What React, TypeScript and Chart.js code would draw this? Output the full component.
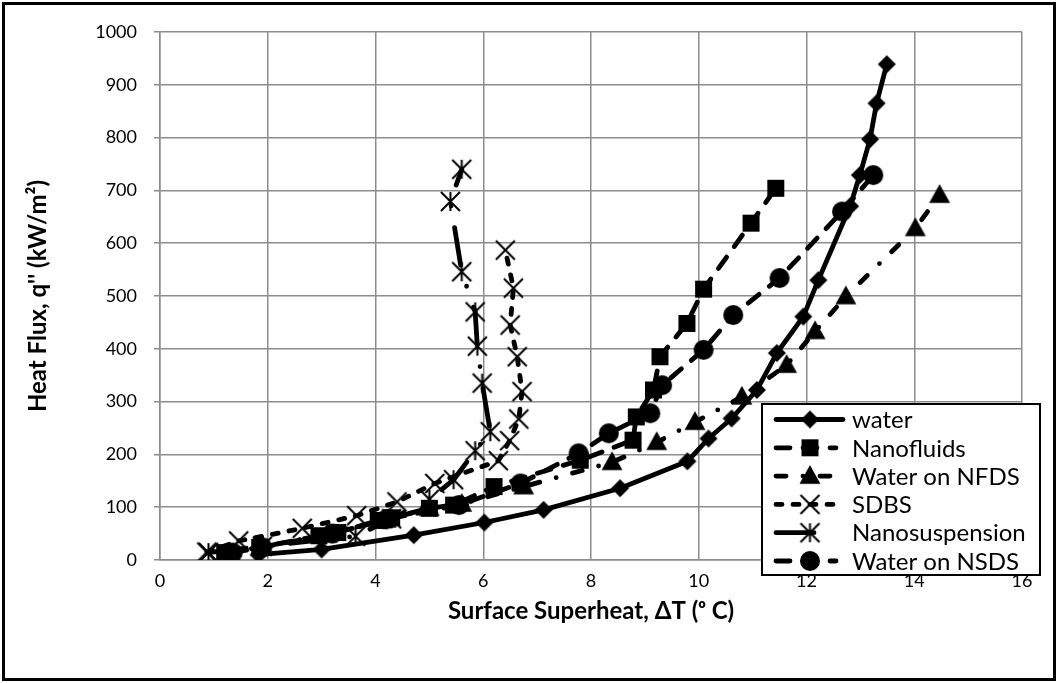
import React, { useEffect, useRef } from "react";
import { Chart, registerables } from "chart.js";

Chart.register(...registerables);

// Surface superheat ΔT (°C) and heat flux q'' (kW/m²) for each test series
const waterDT = [1.83, 3.0, 4.71, 6.02, 7.12, 8.54, 9.79, 10.18, 10.61, 11.08, 11.45, 11.94, 12.22, 12.81, 12.99, 13.18, 13.3, 13.49];
const waterQ = [10, 20, 47, 71, 95, 136, 187, 230, 268, 322, 392, 461, 530, 670, 729, 797, 865, 939];

const nanofluidsDT = [1.2, 1.85, 2.95, 3.3, 4.05, 4.3, 5.0, 5.45, 6.2, 7.8, 8.78, 8.84, 9.16, 9.28, 9.78, 10.09, 10.97, 11.43];
const nanofluidsQ = [14, 24, 46, 52, 75, 80, 98, 104, 139, 189, 227, 271, 322, 385, 448, 513, 638, 704];

const nfdsDT = [1.3, 1.9, 3.1, 4.2, 5.0, 5.6, 6.75, 8.39, 9.22, 9.93, 10.8, 11.63, 12.16, 12.73, 14.02, 14.47];
const nfdsQ = [14, 25, 48, 76, 98, 106, 139, 185, 223, 261, 309, 369, 433, 499, 628, 691];

const sdbsDT = [0.87, 1.46, 2.64, 3.65, 4.4, 5.1, 6.28, 6.49, 6.66, 6.72, 6.63, 6.5, 6.56, 6.41];
const sdbsQ = [15, 36, 60, 84, 110, 145, 188, 226, 267, 319, 385, 445, 515, 587];

const nanoSuspDT = [0.9, 1.9, 3.63, 4.3, 5.0, 5.45, 5.85, 6.13, 5.98, 5.89, 5.85, 5.6, 5.39, 5.6];
const nanoSuspQ = [14, 26, 45, 78, 115, 152, 207, 243, 335, 405, 470, 546, 679, 740];

const nsdsDT = [1.35, 1.9, 3.2, 4.2, 5.55, 6.69, 7.77, 8.33, 9.1, 9.32, 10.09, 10.64, 11.5, 12.66, 13.24];
const nsdsQ = [14, 24, 50, 77, 104, 145, 202, 240, 278, 331, 398, 464, 534, 660, 729];

const seriesLabels = ["water", "Nanofluids", "Water on NFDS", "SDBS", "Nanosuspension", "Water on NSDS"];
const seriesDT = [waterDT, nanofluidsDT, nfdsDT, sdbsDT, nanoSuspDT, nsdsDT];
const seriesQ = [waterQ, nanofluidsQ, nfdsQ, sdbsQ, nanoSuspQ, nsdsQ];

const xTickValues = [0, 2, 4, 6, 8, 10, 12, 14, 16];
const yTickValues = [0, 100, 200, 300, 400, 500, 600, 700, 800, 900, 1000];

const xTitle = "Surface Superheat, ΔT (ᵒ C)";
const yTitle = "Heat Flux, q'' (kW/m²)";

// Drawing styles
type MarkerKind = "diamond" | "square" | "triangle" | "x" | "asterisk" | "circle";
const MARKERS: { kind: MarkerKind; size: number }[] = [
  { kind: "diamond", size: 9 },
  { kind: "square", size: 8.5 },
  { kind: "triangle", size: 11 },
  { kind: "x", size: 9.5 },
  { kind: "asterisk", size: 9.5 },
  { kind: "circle", size: 10 },
];
const DASHES: number[][] = [[], [14, 13], [10, 17, 0, 17], [6, 11], [38, 22, 0, 22], [14, 13]];

const FONT = "Lato, 'Open Sans', sans-serif";
const GRID = "#8c8c8c";
const LINE_W = 4.8;

function makeMarker(kind: MarkerKind, s: number): HTMLCanvasElement {
  const d = Math.ceil(2 * s + 6);
  const c = document.createElement("canvas");
  c.width = d;
  c.height = d;
  const g = c.getContext("2d")!;
  g.translate(d / 2, d / 2);
  g.fillStyle = "#000";
  g.strokeStyle = "#000";
  g.lineWidth = 2;
  g.beginPath();
  switch (kind) {
    case "diamond":
      g.moveTo(0, -s);
      g.lineTo(s, 0);
      g.lineTo(0, s);
      g.lineTo(-s, 0);
      g.closePath();
      g.fill();
      break;
    case "square":
      g.rect(-s, -s, 2 * s, 2 * s);
      g.fill();
      break;
    case "triangle":
      g.moveTo(0, -s);
      g.lineTo(0.95 * s, 0.7 * s);
      g.lineTo(-0.95 * s, 0.7 * s);
      g.closePath();
      g.fill();
      break;
    case "circle":
      g.arc(0, 0, s, 0, Math.PI * 2);
      g.fill();
      break;
    case "x":
      g.moveTo(-s, -s);
      g.lineTo(s, s);
      g.moveTo(-s, s);
      g.lineTo(s, -s);
      g.stroke();
      break;
    case "asterisk":
      g.moveTo(-s, -s);
      g.lineTo(s, s);
      g.moveTo(-s, s);
      g.lineTo(s, -s);
      g.moveTo(0, -s);
      g.lineTo(0, s);
      g.stroke();
      break;
  }
  return c;
}

export default function App() {
  const ref = useRef<HTMLCanvasElement | null>(null);

  useEffect(() => {
    if (!ref.current) return;
    const images = MARKERS.map((m) => makeMarker(m.kind, m.size));

    const framePlugin = {
      id: "frame",
      beforeDraw(chart: any) {
        const { ctx, width, height } = chart;
        ctx.save();
        ctx.fillStyle = "#fff";
        ctx.fillRect(0, 0, width, height);
        ctx.strokeStyle = "#000";
        ctx.lineWidth = 3;
        ctx.strokeRect(3.5, 3.5, width - 7, height - 7);
        ctx.restore();
      },
    };

    const legendPlugin = {
      id: "boxLegend",
      afterDraw(chart: any) {
        const ctx: CanvasRenderingContext2D = chart.ctx;
        const bx = 762, by = 404, bw = 278, bh = 171;
        ctx.save();
        ctx.fillStyle = "#fff";
        ctx.fillRect(bx, by, bw, bh);
        ctx.strokeStyle = "#000";
        ctx.lineWidth = 2;
        ctx.strokeRect(bx, by, bw, bh);
        seriesLabels.forEach((label, i) => {
          const y = by + 15.5 + i * 28.3;
          ctx.save();
          ctx.strokeStyle = "#000";
          ctx.lineWidth = LINE_W;
          ctx.lineCap = "round";
          ctx.setLineDash(DASHES[i]);
          ctx.beginPath();
          ctx.moveTo(776, y);
          ctx.lineTo(i === 0 ? 843 : 836, y);
          ctx.stroke();
          ctx.restore();
          const img = images[i];
          ctx.drawImage(img, 810 - img.width / 2, y - img.height / 2);
          ctx.fillStyle = "#000";
          ctx.font = `24px ${FONT}`;
          ctx.textBaseline = "middle";
          ctx.textAlign = "left";
          ctx.fillText(label, 852, y + 1);
        });
        ctx.restore();
      },
    };

    const datasets = seriesLabels.map((label, i) => ({
      label,
      data: seriesDT[i].map((x, k) => ({ x, y: seriesQ[i][k] })),
      showLine: true,
      borderColor: "#000",
      backgroundColor: "#000",
      borderWidth: LINE_W,
      borderDash: DASHES[i],
      borderCapStyle: "round" as const,
      borderJoinStyle: "round" as const,
      tension: 0,
      fill: false,
      pointStyle: images[i],
      pointRadius: MARKERS[i].size,
      order: seriesLabels.length - i,
    }));

    const chart = new Chart(ref.current, {
      type: "scatter",
      data: { datasets },
      plugins: [framePlugin, legendPlugin],
      options: {
        responsive: false,
        animation: false,
        devicePixelRatio: 1,
        layout: { padding: { top: 32, right: 36, left: 0, bottom: 0 } },
        plugins: { legend: { display: false }, tooltip: { enabled: false } },
        scales: {
          x: {
            type: "linear",
            min: 0,
            max: 16,
            afterBuildTicks: (s: any) => {
              s.ticks = xTickValues.map((v) => ({ value: v }));
            },
            afterFit: (s: any) => {
              s.height = 123;
            },
            grid: { color: GRID, lineWidth: 1.5, drawTicks: false },
            border: { color: GRID, width: 1.5 },
            ticks: {
              color: "#000",
              font: { family: FONT, size: 18 },
              padding: 10,
              maxRotation: 0,
              callback: (v: any) => String(v),
            },
            title: {
              display: true,
              text: xTitle,
              color: "#000",
              font: { family: FONT, size: 24, weight: "bold" },
              padding: { top: 0, bottom: 57.6 },
            },
          },
          y: {
            type: "linear",
            min: 0,
            max: 1000,
            afterBuildTicks: (s: any) => {
              s.ticks = yTickValues.map((v) => ({ value: v }));
            },
            afterFit: (s: any) => {
              s.width = 160;
            },
            grid: { color: GRID, lineWidth: 1.5, drawTicks: true, tickLength: 6 },
            border: { color: GRID, width: 1.5 },
            ticks: {
              color: "#000",
              font: { family: FONT, size: 18 },
              padding: 17,
              callback: (v: any) => String(v),
            },
            title: {
              display: true,
              text: yTitle,
              color: "#000",
              font: { family: FONT, size: 24, weight: "bold" },
              padding: { top: 23.6, bottom: 0 },
            },
          },
        },
      },
    });
    return () => chart.destroy();
  }, []);

  return (
    <div style={{ position: "fixed", left: 0, top: 0, width: 1058, height: 683, background: "#fff" }}>
      <canvas ref={ref} width={1058} height={683} style={{ display: "block" }} />
    </div>
  );
}
